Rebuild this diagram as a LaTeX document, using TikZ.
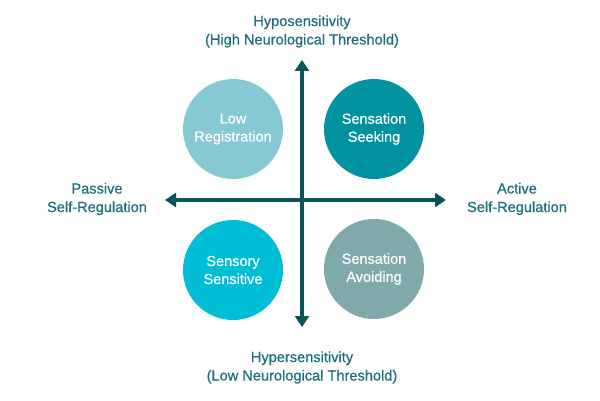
\documentclass[tikz,border=0pt]{standalone}
\usepackage{fontspec}
\setmainfont{Liberation Sans}
\newfontfamily\medfont{Liberation Sans}[FakeBold=0.6]
\usetikzlibrary{arrows.meta}
\definecolor{axisteal}{HTML}{0B5459}
\definecolor{labelteal}{HTML}{1C6E7D}
\definecolor{lowreg}{HTML}{86C9D3}
\definecolor{seeking}{HTML}{00929F}
\definecolor{sensitive}{HTML}{00BED6}
\definecolor{avoiding}{HTML}{80A9AB}
\tikzset{
quad/.style={
  circle,
  minimum size=100pt,
  inner sep=0pt,
  text=white,
  align=center,
  font=\medfont\fontsize{14.5}{18}\selectfont
},
axislabel/.style={
  text=labelteal,
  align=center,
  font=\medfont\fontsize{14.6}{18.5}\selectfont
},
axisline/.style={
  axisteal,
  line width=4.5pt,
  {Triangle[length=11pt,width=14pt]}-{Triangle[length=11pt,width=14pt]}
},
}

\begin{document}
\begin{tikzpicture}[x=1pt,y=1pt]
\useasboundingbox (0,0) rectangle (600,400);
% the axes
\coordinate (top) at (302,340);
\coordinate (bottom) at (302,73);
\coordinate (left) at (165,200);
\coordinate (right) at (446,200);
\draw[axisline] (bottom) -- (top);
\draw[axisline] (left) -- (right);
% the circles
\node[quad,fill=lowreg]    (lowreg)    at (233,271) {Low\\Registration};
\node[quad,fill=seeking]   (seeking)   at (374,271) {Sensation\\Seeking};
\node[quad,fill=sensitive] (sensitive) at (233,130) {Sensory\\Sensitive};
\node[quad,fill=avoiding]  (avoiding)  at (374,131) {Sensation\\Avoiding};
% the labels
\node[axislabel] (hypo)    at (302,368.5) {Hyposensitivity\\(High Neurological Threshold)};
\node[axislabel] (hyper)   at (302,32.5)  {Hypersensitivity\\(Low Neurological Threshold)};
\node[axislabel] (passive) at (97,201)    {Passive\\Self-Regulation};
\node[axislabel] (active)  at (517,201)   {Active\\Self-Regulation};
\end{tikzpicture}
\end{document}
